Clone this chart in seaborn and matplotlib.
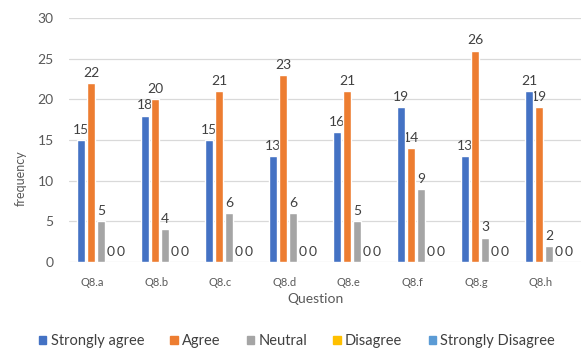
import matplotlib
matplotlib.use("Agg")
import matplotlib.pyplot as plt
from matplotlib.transforms import ScaledTranslation
from matplotlib.patches import Rectangle
import seaborn as sns
import pandas as pd

# Survey responses per question
questions = ["Q8.a", "Q8.b", "Q8.c", "Q8.d", "Q8.e", "Q8.f", "Q8.g", "Q8.h"]
responses = ["Strongly agree", "Agree", "Neutral", "Disagree", "Strongly Disagree"]
strongly_agree = [15, 18, 15, 13, 16, 19, 13, 21]
agree = [22, 20, 21, 23, 21, 14, 26, 19]
neutral = [5, 4, 6, 6, 5, 9, 3, 2]
disagree = [0, 0, 0, 0, 0, 0, 0, 0]
strongly_disagree = [0, 0, 0, 0, 0, 0, 0, 0]
colors = ["#4472C4", "#ED7D31", "#A5A5A5", "#FFC000", "#5B9BD5"]

series = [strongly_agree, agree, neutral, disagree, strongly_disagree]
rows = []
for resp, vals in zip(responses, series):
    for q, v in zip(questions, vals):
        rows.append({"Question": q, "frequency": v, "response": resp})
df = pd.DataFrame(rows)

sns.set_theme(style="white")
plt.rcParams["font.family"] = ["Lato", "DejaVu Sans"]

fig = plt.figure(figsize=(5.84, 3.48), dpi=100)
ax = fig.add_axes([69 / 584, 1 - 262 / 348, 512 / 584, 244 / 348])

sns.barplot(data=df, x="Question", y="frequency", hue="response",
            hue_order=responses, order=questions, palette=colors,
            width=0.78, gap=0.2, ax=ax, saturation=1, errorbar=None,
            zorder=2)

# value labels sit behind the bars, so a neighbouring bar can overlap them
for cont in ax.containers:
    labels = ax.bar_label(cont, fmt="%d", padding=3, fontsize=10,
                          color="#404040")
    for t in labels:
        t.set_zorder(1.5)

ax.set_ylim(0, 30)
ax.set_xlim(-0.5, len(questions) - 0.5)
ax.set_yticks([0, 5, 10, 15, 20, 25, 30])
ax.yaxis.grid(True, color="#D9D9D9", linewidth=0.9, zorder=0)
ax.set_axisbelow(True)
for s in ax.spines.values():
    s.set_visible(False)

ax.tick_params(axis="y", length=0, pad=11, labelsize=10, labelcolor="#595959")
ax.tick_params(axis="x", length=0, pad=11, labelsize=8, labelcolor="#595959")
shift = ScaledTranslation(-8.5 / 100, 0, fig.dpi_scale_trans)
for lab in ax.get_xticklabels():
    lab.set_transform(lab.get_transform() + shift)

ax.set_xlabel("Question", fontsize=10, color="#595959", va="center")
ax.xaxis.set_label_coords((316 - 69) / 512, (262 - 299) / 244)
ax.set_ylabel("frequency", fontsize=9, color="#595959", va="center")
ax.yaxis.set_label_coords((21 - 69) / 512, (262 - 178) / 244)

ax.get_legend().remove()
handles = [Rectangle((0, 0), 1, 1, color=c) for c in colors]
fig.legend(handles, responses, loc="center",
           bbox_to_anchor=(297 / 584, 1 - 341 / 348), ncol=5, frameon=False,
           fontsize=10.5, handlelength=0.5, handleheight=0.5,
           handletextpad=0.3, columnspacing=1.8, labelcolor="#404040")

fig.savefig("out.png", dpi=100, facecolor="white")
